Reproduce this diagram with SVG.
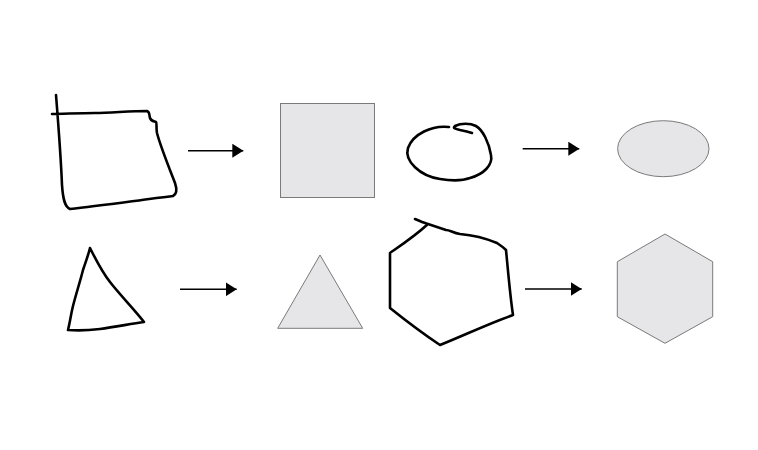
<svg xmlns="http://www.w3.org/2000/svg" width="758" height="450" viewBox="0 0 758 450">
<style>
.sketch{fill:none;stroke:#000;stroke-width:2.6;stroke-linecap:round;stroke-linejoin:round}
.shape{fill:#e6e6e9;stroke:#7a7a7a;stroke-width:1}
.conn{stroke:#000;stroke-width:1.6;fill:none}
</style>
<defs>
<marker id="ah" markerWidth="11" markerHeight="14" refX="11" refY="7" orient="auto" markerUnits="userSpaceOnUse">
<path d="M0,0 L11,7 L0,14 Z" fill="#000"/>
</marker>
</defs>
<rect width="758" height="450" fill="#fff"/>
<g id="sketch-square">
<path class="sketch" d="M56,95 C58,120 61,160 62,185 C63,200 65,207 70,209 C100,206 140,200 173,196 C177,194 177,189 175,183 C168,165 160,145 157,133 C156,128 157,123 156,122 C153,121 151,121 150,118 C149,115 150,112 147,111 C130,111 110,113 95,113 C80,113 62,114 52,114"/>
</g>
<g id="target-square">
<rect class="shape" x="280.5" y="103.5" width="94" height="94"/>
</g>
<g id="sketch-circle">
<path class="sketch" d="M449,127 C432,125 413,134 408,148 C404,161 420,176 440,179 C452,181 462,181 470,178 C484,174 493,165 491,155 C489,143 483,130 476,126 C470,123 461,123 455,126 C452,128 456,129 460,130 C465,131 469,132 472,133"/>
</g>
<g id="target-ellipse">
<ellipse class="shape" cx="663.3" cy="148.7" rx="45.7" ry="28"/>
</g>
<g id="sketch-triangle">
<path class="sketch" d="M90,248 C88,256 85,264 83,270 C80,282 76,294 73,306 C71,314 70,322 68,330 C80,331 92,330 100,329 C115,327 130,324 144,322 C135,310 120,295 110,282 C102,272 95,258 90,248 Z"/>
</g>
<g id="target-triangle">
<polygon class="shape" points="320,255 362.7,328.3 277.7,328.3"/>
</g>
<g id="sketch-hexagon">
<path class="sketch" d="M415,219 C420,221 424,223 428,224 C415,236 400,246 390,253 C390,272 390,292 390,308 C405,320 425,335 440,345 C465,335 490,323 513,315 C510,295 508,270 506,250 C503,247 500,245 497,243 C485,238 472,235 460,234 C453,233 450,230 446,230 C440,228 434,226 428,224"/>
</g>
<g id="target-hexagon">
<polygon class="shape" points="665,234 712.7,261.7 712.7,316.7 665,343.3 617.3,316.7 617.3,261.7"/>
</g>
<g id="connectors">
<line class="conn" x1="188" y1="150.7" x2="243.3" y2="150.7" marker-end="url(#ah)"/>
<line class="conn" x1="522.7" y1="148.7" x2="579.3" y2="148.7" marker-end="url(#ah)"/>
<line class="conn" x1="180" y1="289.3" x2="236.7" y2="289.3" marker-end="url(#ah)"/>
<line class="conn" x1="525" y1="289" x2="581.7" y2="289" marker-end="url(#ah)"/>
</g>
</svg>
